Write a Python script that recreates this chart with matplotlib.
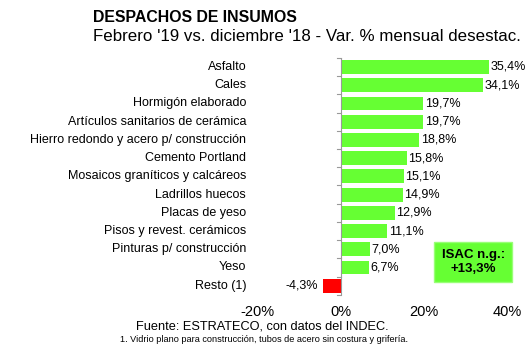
import matplotlib.pyplot as plt

plt.rcParams['font.family'] = ['Liberation Sans', 'DejaVu Sans']

# Datos
categorias = ["Asfalto", "Cales", "Hormigón elaborado", "Artículos sanitarios de cerámica",
              "Hierro redondo y acero p/ construcción", "Cemento Portland",
              "Mosaicos graníticos y calcáreos", "Ladrillos huecos", "Placas de yeso",
              "Pisos y revest. cerámicos", "Pinturas p/ construcción", "Yeso", "Resto (1)"]
valores = [35.4, 34.1, 19.7, 19.7, 18.8, 15.8, 15.1, 14.9, 12.9, 11.1, 7.0, 6.7, -4.3]
ticks_x = [-20, 0, 20, 40]

verde = "#66ff33"
rojo = "#ff0000"

fig = plt.figure(figsize=(5.3, 3.64), dpi=100)
ax = fig.add_axes([0.485, 0.19, 0.473, 0.651])

y = list(range(len(categorias)))
colores = [verde if v >= 0 else rojo for v in valores]
ax.barh(y, valores, height=0.76, color=colores, edgecolor="none", zorder=2)

for yi, v in zip(y, valores):
    txt = f"{v:.1f}%".replace(".", ",")
    if v >= 0:
        ax.text(v + 0.4, yi, txt, va="center", ha="left", fontsize=9)
    else:
        ax.text(v - 1.0, yi, txt, va="center", ha="right", fontsize=9)

ax.set_xlim(-20, 40)
ax.set_ylim(len(categorias) - 0.5, -0.5)
ax.set_xticks(ticks_x)
ax.set_xticklabels([f"{t}%" for t in ticks_x], fontsize=10.5)
ax.tick_params(axis="x", length=0, pad=7)

# eje vertical en cero
ax.axvline(0, color="#999999", lw=0.8, zorder=3)
for yi in [i - 0.5 for i in range(len(categorias) + 1)]:
    ax.plot([-0.9, 0], [yi, yi], color="#999999", lw=0.8, zorder=3, clip_on=False)

ax.set_yticks([])
for s in ax.spines.values():
    s.set_visible(False)

# etiquetas de categorias
for yi, c in zip(y, categorias):
    ax.text(-22.6, yi, c, ha="right", va="center", fontsize=9)

fig.text(0.175, 0.952, "DESPACHOS DE INSUMOS", fontsize=11.4, fontweight="bold", va="center")
fig.text(0.175, 0.9, "Febrero '19 vs. diciembre '18 - Var. % mensual desestac.", fontsize=12.2, va="center")

# recuadro ISAC
fig.text(0.893, 0.28, "ISAC n.g.:\n+13,3%", fontsize=9.5, fontweight="bold", ha="center", va="center",
         linespacing=1.2,
         bbox=dict(boxstyle="square,pad=0.55", facecolor=verde, edgecolor="#99ff77", lw=1))

fig.text(0.495, 0.102, "Fuente: ESTRATECO, con datos del INDEC.", fontsize=9.2, ha="center", va="center")
fig.text(0.498, 0.066, "1. Vidrio plano para construcción, tubos de acero sin costura y grifería.",
         fontsize=6.6, ha="center", va="center")

fig.savefig("out.png", dpi=100)
